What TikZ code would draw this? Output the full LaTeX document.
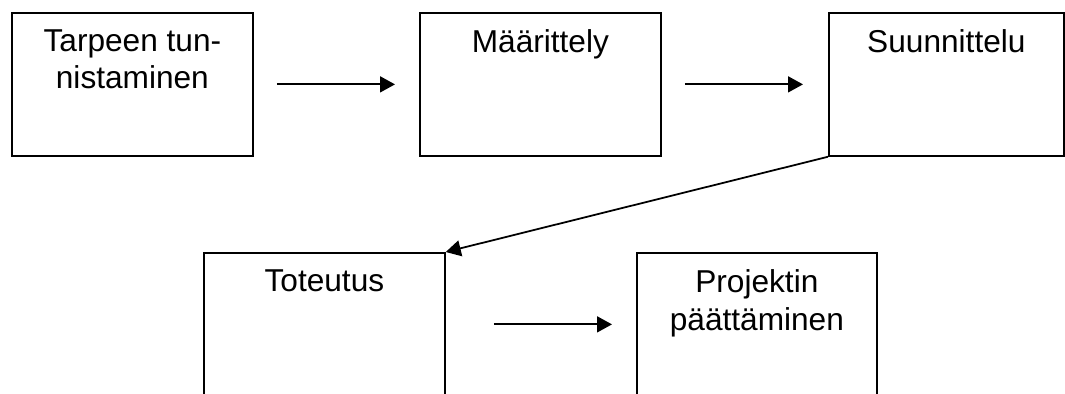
\documentclass[tikz,border=0pt]{standalone}
\usepackage{fontspec}
\setmainfont{Liberation Sans}
\usetikzlibrary{positioning,arrows.meta}
\tikzset{
  vaihe/.style={draw, line width=1pt, minimum width=4.82cm, minimum height=2.86cm, inner sep=0pt, anchor=north west},
  teksti/.style={align=center, inner sep=0pt, anchor=north, font=\fontsize{18}{21.4}\selectfont},
  nuoli/.style={line width=1pt, -{Triangle[length=0.3cm,width=0.32cm]}}
}
\begin{document}
\begin{tikzpicture}
\clip (0,0) rectangle (21.3,7.88);
\node[vaihe] (tarve) at (0.22,7.64) {};
\node[vaihe] (maarittely) at (8.38,7.64) {};
\node[vaihe, minimum width=4.70cm] (suunnittelu) at (16.56,7.64) {};
\node[vaihe] (toteutus) at (4.06,2.84) {};
\node[vaihe, minimum width=4.80cm] (paattaminen) at (12.72,2.84) {};
\node[teksti, below=0.345cm of tarve.north] (tarveteksti) {Tarpeen tun-\\nistaminen};
\node[teksti, below=0.345cm of maarittely.north] (maarittelyteksti) {Määrittely};
\node[teksti, below=0.345cm of suunnittelu.north] (suunnitteluteksti) {Suunnittelu};
\node[teksti, below=0.345cm of toteutus.north] (toteutusteksti) {Toteutus};
\node[teksti, below=0.345cm of paattaminen.north] (paattaminenteksti) {Projektin\\päättäminen};
\draw[nuoli, shorten <=0.46cm, shorten >=0.48cm] (tarve) -- (maarittely);
\draw[nuoli, shorten <=0.46cm, shorten >=0.50cm] (maarittely) -- (suunnittelu);
\draw[nuoli] (suunnittelu.south west) -- (toteutus.north east);
\draw[nuoli, shorten <=0.96cm, shorten >=0.48cm] (toteutus) -- (paattaminen);
\end{tikzpicture}
\end{document}
